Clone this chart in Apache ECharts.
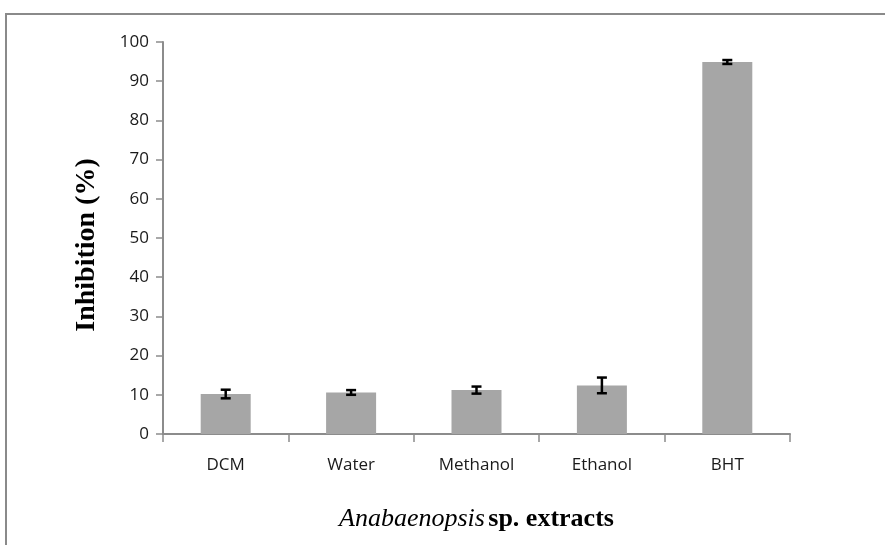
<!DOCTYPE html>
<html><head><meta charset="utf-8">
<script src="https://cdn.jsdelivr.net/npm/echarts@6/dist/echarts.min.js"></script>
<style>
html,body{margin:0;padding:0;background:#fff;}
#frame{position:absolute;left:5px;top:13px;width:900px;height:560px;border-top:2px solid #8a8a8a;border-left:2px solid #8a8a8a;}
#c{position:absolute;left:0;top:0;width:885px;height:545px;}
</style></head>
<body>
<div id="frame"></div>
<div id="c"></div>
<script>
var categories = ['DCM', 'Water', 'Methanol', 'Ethanol', 'BHT'];
var inhibition = [10.2, 10.6, 11.2, 12.4, 94.9];
var errors = [1.1, 0.6, 0.9, 2.0, 0.5];
var yTicks = [0, 10, 20, 30, 40, 50, 60, 70, 80, 90, 100];

var chart = echarts.init(document.getElementById('c'), null, {renderer: 'canvas'});
var errData = categories.map(function (c, i) { return [i, inhibition[i] - errors[i], inhibition[i] + errors[i]]; });
chart.setOption({
  backgroundColor: 'transparent',
  animation: false,
  grid: {left: 163, right: 95, top: 42, bottom: 111},
  xAxis: {
    type: 'category',
    data: categories,
    name: '{i|Anabaenopsis} {b|sp. extracts}',
    nameLocation: 'middle',
    nameGap: 72,
    nameTextStyle: {
      rich: {
        i: {fontFamily: 'Liberation Serif', fontStyle: 'italic', fontSize: 26, color: '#000'},
        b: {fontFamily: 'Liberation Serif', fontWeight: 'bold', fontSize: 26, color: '#000'}
      }
    },
    axisLine: {lineStyle: {color: '#8c8c8c', width: 2}},
    axisTick: {show: true, alignWithLabel: false, length: 8, lineStyle: {color: '#8c8c8c', width: 1.5}},
    axisLabel: {fontFamily: 'Open Sans', fontSize: 17, color: '#1a1a1a', margin: 23}
  },
  yAxis: {
    type: 'value',
    min: 0, max: 100, interval: 10,
    name: 'Inhibition (%)',
    nameLocation: 'middle',
    nameGap: 62,
    nameTextStyle: {fontFamily: 'Liberation Serif', fontWeight: 'bold', fontSize: 28, color: '#000', padding: [0, 14, 0, 0]},
    axisLine: {show: true, lineStyle: {color: '#8c8c8c', width: 2}},
    axisTick: {show: true, length: 7, lineStyle: {color: '#8c8c8c', width: 1.5}},
    splitLine: {show: false},
    axisLabel: {fontFamily: 'Open Sans', fontSize: 17, color: '#1a1a1a', margin: 14,
      formatter: function (v) { return yTicks.indexOf(v) >= 0 ? String(v) : ''; }}
  },
  series: [{
    type: 'bar',
    data: inhibition,
    barWidth: 50,
    itemStyle: {color: '#a6a6a6'}
  }, {
    type: 'custom',
    data: errData,
    z: 10,
    renderItem: function (params, api) {
      var x = api.value(0);
      var lo = api.coord([x, api.value(1)]);
      var hi = api.coord([x, api.value(2)]);
      var hw = 5;
      var st = {stroke: '#000', lineWidth: 2.5};
      return {type: 'group', children: [
        {type: 'line', shape: {x1: lo[0], y1: lo[1], x2: hi[0], y2: hi[1]}, style: st},
        {type: 'line', shape: {x1: lo[0] - hw, y1: lo[1], x2: lo[0] + hw, y2: lo[1]}, style: st},
        {type: 'line', shape: {x1: hi[0] - hw, y1: hi[1], x2: hi[0] + hw, y2: hi[1]}, style: st}
      ]};
    }
  }]
});
</script>
</body></html>
